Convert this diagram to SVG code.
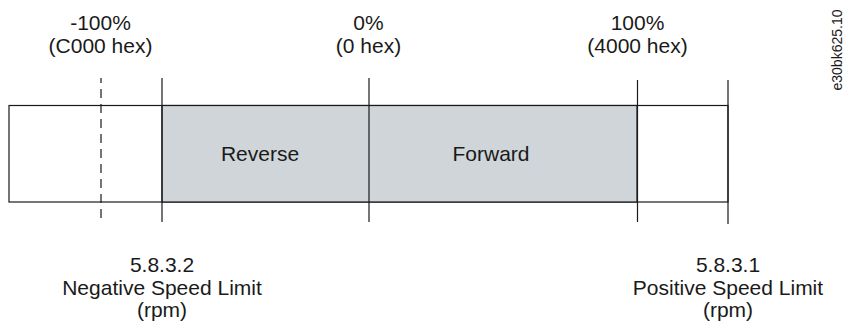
<svg xmlns="http://www.w3.org/2000/svg" width="856" height="332" viewBox="0 0 856 332">
  <style>
    .t { font-family: "Liberation Sans", Arial, sans-serif; font-size: 21px; fill: #1a1a1a; text-anchor: middle; }
    .ln { stroke: #1a1a1a; stroke-width: 1.2; fill: none; }
    .dash { stroke: #1a1a1a; stroke-width: 1.2; stroke-dasharray: 9 6; stroke-dashoffset: 4; }
    .id { font-family: "Liberation Sans", Arial, sans-serif; font-size: 14px; fill: #1a1a1a; text-anchor: middle; }
  </style>
  <rect width="856" height="332" fill="#ffffff"/>

  <g id="bar">
    <rect x="9" y="105.5" width="719" height="96.5" fill="#ffffff" stroke="#1a1a1a" stroke-width="1.2"/>
    <rect id="range" x="162" y="105.5" width="475" height="96.5" fill="#cfd5d8" stroke="#1a1a1a" stroke-width="1.2"/>
  </g>

  <g id="connectors">
    <line class="dash" x1="101" y1="78" x2="101" y2="222"/>
    <line class="ln" x1="162" y1="78" x2="162" y2="222"/>
    <line class="ln" x1="369" y1="78" x2="369" y2="222"/>
    <line class="ln" x1="637.5" y1="80" x2="637.5" y2="222"/>
    <line class="ln" x1="728" y1="80" x2="728" y2="224"/>
  </g>

  <g id="reverse">
    <text class="t" x="260" y="161">Reverse</text>
  </g>
  <g id="forward">
    <text class="t" x="491" y="161">Forward</text>
  </g>

  <g id="label-neg100">
    <text class="t" x="100.5" y="30">-100%</text>
    <text class="t" x="100.5" y="53">(C000 hex)</text>
  </g>
  <g id="label-zero">
    <text class="t" x="368.5" y="30">0%</text>
    <text class="t" x="368.5" y="53">(0 hex)</text>
  </g>
  <g id="label-pos100">
    <text class="t" x="637.5" y="30">100%</text>
    <text class="t" x="637.5" y="53">(4000 hex)</text>
  </g>

  <g id="label-negative-limit">
    <text class="t" x="162" y="272">5.8.3.2</text>
    <text class="t" x="162" y="295">Negative Speed Limit</text>
    <text class="t" x="162" y="317">(rpm)</text>
  </g>
  <g id="label-positive-limit">
    <text class="t" x="728" y="272">5.8.3.1</text>
    <text class="t" x="728" y="295">Positive Speed Limit</text>
    <text class="t" x="728" y="317">(rpm)</text>
  </g>

  <g id="figure-id">
    <text class="id" transform="translate(842 50) rotate(-90)">e30bk625.10</text>
  </g>
</svg>
